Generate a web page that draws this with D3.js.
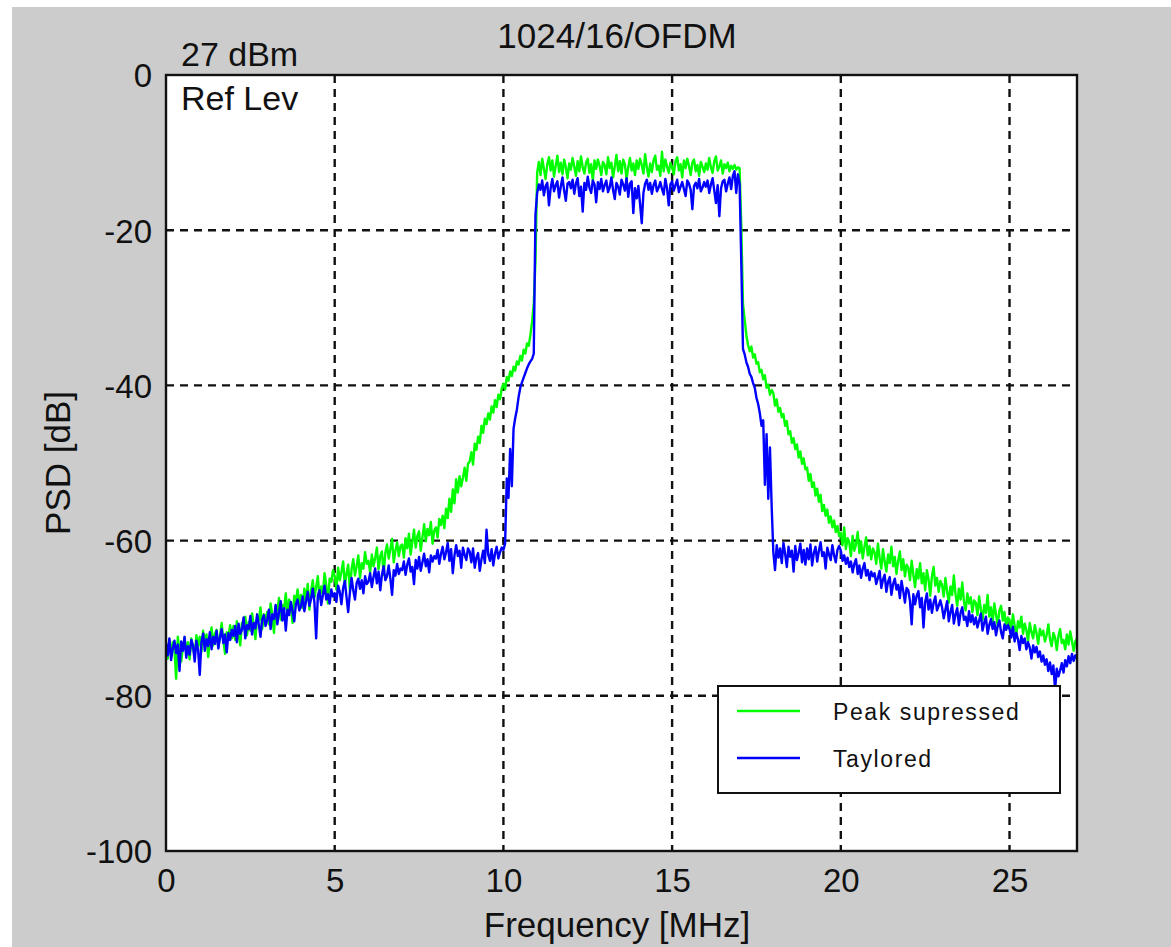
<!DOCTYPE html>
<html>
<head>
  <meta charset="utf-8">
  <script src="https://d3js.org/d3.v7.min.js"></script>
  <style>
    body { margin: 0; background: #ffffff; }
    svg { display: block; }
    text { font-family: "Liberation Sans", Arial, sans-serif; fill: #111111; }
    .grid line { stroke: #111111; stroke-width: 2.4; stroke-dasharray: 8,6; }
    .trace { fill: none; stroke-width: 2.4; stroke-linejoin: round; }
  </style>
</head>
<body>
<svg id="canvas" width="1171" height="947"></svg>
<script>
  // spectrum, one row per MHz (20 samples per MHz, last value at 27 MHz)
  const greenPsd = [
    -73.5,-75.2,-72.8,-74.6,-73.1,-74.0,-77.8,-72.4,-74.2,-75.6,-73.8,-72.5,-74.5,-73.1,-75.3,-72.6,-73.9,-74.8,-72.2,-73.6,
    -72.4,-74.3,-71.6,-73.0,-72.1,-75.0,-72.8,-71.2,-73.5,-72.0,-71.5,-73.8,-72.3,-70.6,-72.9,-74.6,-71.8,-72.4,-70.9,-72.6,
    -71.0,-72.8,-70.4,-71.9,-73.5,-70.6,-71.3,-69.8,-72.2,-70.5,-71.6,-69.4,-70.8,-72.7,-69.9,-70.3,-68.6,-71.4,-69.5,-70.1,
    -69.2,-70.8,-68.1,-69.6,-71.9,-68.5,-69.0,-67.4,-70.2,-68.3,-68.9,-66.8,-69.5,-67.6,-68.4,-70.6,-67.1,-67.9,-66.3,-68.2,
    -67.0,-68.7,-66.2,-67.8,-65.6,-68.9,-66.5,-65.1,-67.3,-66.0,-64.6,-67.5,-65.9,-66.8,-64.2,-65.7,-68.1,-64.9,-65.3,-63.8,
    -64.6,-66.3,-63.5,-65.1,-64.0,-62.7,-65.8,-64.2,-63.1,-66.5,-63.7,-62.4,-64.5,-63.3,-61.9,-64.8,-62.9,-63.6,-61.5,-63.0,
    -62.6,-64.1,-61.8,-63.3,-62.2,-60.9,-63.7,-62.0,-61.4,-64.4,-61.6,-60.5,-62.3,-61.1,-59.8,-62.8,-61.3,-60.2,-62.0,-60.7,
    -60.5,-62.2,-59.7,-61.0,-59.1,-61.8,-60.2,-58.6,-60.9,-59.4,-58.8,-61.3,-59.6,-57.9,-60.1,-58.5,-59.3,-57.6,-60.4,-58.7,
    -58.3,-59.6,-57.2,-58.0,-56.8,-58.4,-55.9,-57.1,-54.6,-56.3,-53.4,-55.2,-52.1,-53.8,-51.7,-53.0,-51.9,-50.6,-52.3,-50.1,
    -49.8,-48.6,-50.2,-47.5,-48.3,-46.6,-47.4,-45.2,-46.1,-44.3,-45.0,-43.6,-44.4,-42.7,-43.5,-41.9,-42.8,-41.2,-41.8,-40.4,
    -39.8,-40.5,-38.9,-39.4,-38.2,-38.8,-37.6,-38.1,-36.9,-37.3,-36.2,-36.8,-35.4,-35.9,-34.6,-34.9,-33.5,-31.8,-29.5,-24.0,
    -12.6,-11.2,-12.9,-10.8,-12.1,-13.4,-11.5,-10.6,-12.3,-11.0,-13.1,-11.7,-10.4,-12.5,-11.3,-12.8,-10.9,-11.9,-13.3,-11.4,
    -12.2,-10.7,-11.8,-13.0,-11.1,-12.4,-10.5,-11.9,-12.7,-11.3,-10.8,-12.6,-11.5,-13.6,-11.0,-12.1,-10.9,-11.7,-12.9,-11.2,
    -11.6,-12.8,-10.6,-12.0,-11.3,-13.2,-11.8,-10.3,-12.4,-11.1,-12.7,-10.9,-11.5,-13.4,-11.9,-10.7,-12.3,-11.4,-12.9,-11.0,
    -12.1,-10.8,-11.6,-12.7,-10.2,-11.9,-13.1,-11.4,-12.5,-11.0,-10.4,-12.2,-11.7,-13.0,-9.9,-12.4,-10.9,-11.8,-12.6,-11.3,
    -11.9,-12.8,-11.1,-10.6,-12.3,-11.5,-13.2,-11.0,-12.0,-10.8,-11.7,-12.9,-11.3,-10.9,-12.4,-11.6,-13.0,-11.2,-11.8,-12.5,
    -11.4,-12.2,-10.7,-11.9,-12.6,-11.1,-10.5,-12.3,-11.8,-11.0,-12.7,-11.5,-12.0,-11.3,-12.4,-11.7,-12.1,-11.6,-12.2,-11.9,
    -12.0,-19.5,-29.5,-31.5,-33.5,-34.8,-35.6,-35.0,-36.4,-36.0,-37.2,-37.0,-38.3,-38.0,-39.2,-38.7,-40.3,-39.9,-41.2,-40.6,
    -41.0,-42.6,-41.8,-43.4,-42.9,-44.1,-43.7,-45.2,-44.6,-46.3,-45.9,-47.4,-46.8,-48.2,-47.6,-49.3,-48.5,-50.1,-49.4,-50.8,
    -50.6,-52.3,-51.4,-53.1,-52.5,-54.2,-53.3,-55.0,-54.1,-56.2,-55.4,-56.8,-56.0,-57.7,-56.9,-58.3,-57.4,-58.9,-58.1,-59.4,
    -59.0,-60.6,-58.3,-61.1,-59.7,-60.2,-62.0,-59.4,-61.3,-60.5,-58.9,-61.6,-60.1,-62.3,-60.8,-59.6,-61.9,-60.7,-62.4,-61.0,
    -61.5,-63.0,-60.4,-62.2,-63.6,-61.1,-62.7,-64.0,-61.8,-62.9,-60.8,-63.3,-62.1,-64.3,-62.6,-61.4,-63.8,-62.4,-64.6,-63.1,
    -63.5,-65.1,-62.6,-64.4,-66.0,-63.7,-64.9,-62.9,-65.5,-64.2,-66.4,-63.8,-65.0,-67.1,-64.6,-63.4,-65.8,-64.8,-66.6,-65.2,
    -65.7,-67.2,-64.8,-66.5,-68.0,-65.9,-67.0,-64.5,-66.9,-68.4,-66.2,-67.6,-65.4,-67.9,-69.0,-66.8,-68.1,-67.3,-69.2,-67.7,
    -68.0,-69.6,-67.2,-68.9,-70.2,-68.3,-69.3,-67.0,-69.8,-68.6,-70.6,-68.1,-69.5,-71.0,-69.0,-68.4,-70.3,-69.2,-71.2,-69.9,
    -70.2,-71.6,-69.5,-70.9,-72.3,-70.4,-71.2,-69.8,-72.0,-70.7,-71.5,-73.0,-70.6,-71.8,-72.6,-70.9,-71.9,-73.3,-71.4,-72.2,
    -71.6,-73.0,-72.2,-70.8,-72.7,-73.6,-71.9,-72.5,-74.1,-72.3,-71.4,-73.2,-72.8,-74.0,-72.1,-73.4,-71.7,-72.9,-74.2,-73.0,
    -72.6
  ];

  const bluePsd = [
    -73.2,-74.8,-72.6,-75.4,-73.9,-72.9,-74.5,-73.4,-76.8,-73.0,-74.2,-72.4,-75.1,-73.6,-74.7,-72.8,-73.5,-75.6,-72.9,-74.0,
    -77.3,-73.1,-72.0,-74.2,-72.7,-73.6,-71.8,-74.0,-72.4,-73.3,-71.6,-73.9,-72.5,-71.4,-73.2,-72.1,-74.4,-71.9,-72.8,-71.5,
    -72.3,-71.0,-73.1,-70.7,-72.0,-71.5,-69.9,-72.6,-70.9,-71.4,-69.7,-72.1,-70.6,-71.3,-69.5,-70.8,-72.4,-70.2,-69.6,-71.0,
    -70.2,-68.9,-71.4,-69.5,-70.1,-68.3,-70.8,-69.2,-67.8,-70.3,-68.7,-71.6,-68.9,-69.6,-67.9,-69.1,-70.4,-68.2,-67.6,-69.0,
    -68.5,-67.2,-69.1,-67.8,-66.6,-68.4,-67.5,-66.2,-68.0,-72.6,-67.1,-66.4,-68.3,-67.0,-65.8,-67.6,-66.9,-68.1,-66.3,-67.2,
    -66.8,-67.9,-65.8,-66.6,-68.2,-66.1,-65.2,-67.3,-69.2,-66.7,-64.8,-66.4,-67.6,-65.5,-64.9,-66.2,-65.1,-66.8,-64.6,-65.6,
    -65.3,-64.2,-66.0,-64.7,-63.6,-65.5,-64.0,-66.4,-64.4,-63.3,-65.1,-64.6,-63.2,-64.9,-67.0,-63.8,-64.5,-63.0,-64.3,-63.6,
    -63.8,-62.7,-64.4,-63.1,-62.3,-64.0,-63.4,-65.6,-62.5,-63.6,-62.1,-63.9,-62.8,-61.7,-63.3,-62.4,-64.1,-61.9,-62.7,-62.0,
    -62.3,-61.2,-63.0,-61.7,-60.8,-62.4,-61.5,-60.3,-62.6,-61.1,-64.2,-61.9,-60.6,-62.0,-61.3,-63.5,-60.9,-61.8,-62.5,-61.0,
    -61.4,-62.8,-61.0,-63.5,-62.2,-61.6,-63.9,-62.4,-61.3,-62.9,-58.6,-61.8,-62.6,-61.1,-63.2,-61.7,-60.8,-62.3,-61.5,-60.9,
    -61.2,-60.4,-52.0,-54.5,-48.2,-53.0,-45.6,-44.2,-43.1,-41.5,-40.3,-39.6,-39.0,-38.4,-37.8,-37.3,-36.9,-36.6,-35.9,-18.0,
    -15.2,-14.1,-14.8,-13.6,-15.5,-14.3,-13.9,-16.8,-14.6,-13.4,-15.0,-14.2,-13.7,-15.8,-14.4,-13.2,-14.9,-16.2,-14.0,-13.8,
    -14.6,-13.5,-15.3,-14.0,-13.3,-15.6,-14.4,-17.6,-13.9,-14.8,-13.1,-14.5,-15.2,-13.6,-14.1,-16.4,-13.8,-14.7,-13.4,-15.0,
    -14.2,-13.6,-15.1,-14.5,-13.2,-14.8,-16.0,-13.9,-14.4,-15.4,-13.5,-14.1,-14.9,-13.3,-15.7,-14.0,-13.7,-17.8,-14.6,-15.9,
    -14.3,-16.6,-19.1,-15.2,-14.0,-13.5,-14.8,-13.9,-15.3,-14.2,-13.6,-15.0,-14.5,-13.8,-14.7,-15.4,-13.4,-14.6,-16.8,-14.1,
    -13.7,-14.9,-14.2,-13.5,-15.1,-14.4,-13.8,-14.7,-15.6,-13.6,-14.0,-14.8,-17.3,-14.3,-13.9,-14.6,-13.4,-15.0,-14.5,-13.8,
    -14.4,-13.6,-15.2,-14.1,-13.3,-14.9,-16.5,-14.2,-18.2,-14.6,-13.7,-13.5,-15.0,-14.0,-13.2,-14.7,-13.0,-12.4,-15.2,-12.8,
    -14.0,-24.0,-35.3,-36.0,-37.0,-37.6,-38.5,-38.9,-39.7,-40.3,-41.6,-42.4,-43.6,-45.2,-44.5,-52.8,-46.3,-54.6,-48.0,-55.5,
    -61.5,-63.8,-60.6,-62.2,-61.0,-62.9,-60.3,-61.7,-63.4,-60.8,-62.1,-61.3,-64.0,-60.7,-62.5,-61.6,-60.4,-62.8,-61.2,-63.1,
    -61.0,-62.4,-60.5,-63.2,-61.6,-60.8,-62.7,-61.3,-60.2,-62.0,-61.5,-63.6,-60.9,-61.8,-62.5,-60.6,-61.9,-62.8,-61.2,-60.7,
    -61.3,-62.6,-61.9,-63.0,-62.2,-63.4,-62.7,-64.1,-63.0,-62.4,-64.3,-63.2,-64.8,-63.6,-62.9,-64.5,-63.8,-65.1,-64.0,-64.6,
    -64.2,-65.6,-64.8,-63.9,-66.1,-65.0,-64.4,-66.6,-65.3,-64.7,-67.0,-65.6,-64.9,-66.3,-65.7,-67.4,-65.2,-66.5,-68.0,-66.1,
    -66.4,-67.8,-70.8,-66.9,-68.2,-67.1,-66.5,-68.6,-67.4,-71.2,-67.9,-66.8,-68.9,-67.6,-69.3,-68.0,-67.2,-69.0,-68.4,-67.7,
    -68.6,-70.0,-68.9,-67.8,-70.4,-69.2,-68.3,-70.7,-69.5,-68.7,-70.9,-69.3,-68.6,-70.2,-69.8,-71.0,-69.1,-70.5,-69.6,-70.8,
    -69.9,-71.2,-70.3,-69.4,-71.6,-70.6,-69.8,-72.0,-70.9,-70.1,-71.4,-70.5,-72.2,-71.0,-70.3,-71.8,-72.6,-70.8,-71.5,-70.9,
    -71.4,-72.5,-71.1,-73.0,-71.9,-72.7,-74.1,-72.3,-73.2,-72.6,-74.0,-73.1,-73.8,-75.2,-73.5,-74.4,-73.7,-75.0,-74.3,-75.6,
    -74.8,-76.0,-75.3,-76.8,-75.7,-77.2,-76.1,-79.2,-76.5,-77.5,-76.7,-75.8,-77.0,-75.4,-76.2,-74.9,-75.8,-74.6,-75.5,-74.8,
    -75.2
  ];

  const seriesNames = ["Peak supressed", "Taylored"];
  const seriesColors = ["#00ff00", "#0000ff"];
  const xTicks = [0, 5, 10, 15, 20, 25];
  const yTicks = [0, -20, -40, -60, -80, -100];

  const svg = d3.select("#canvas");
  const margin = { left: 166, top: 75, right: 1077, bottom: 851 };

  const x = d3.scaleLinear().domain([0, 27]).range([margin.left, margin.right]);
  const y = d3.scaleLinear().domain([-100, 0]).range([margin.bottom, margin.top]);

  // gray figure background (the scan has a thin white strip top/left)
  svg.append("rect").attr("width", 1171).attr("height", 947).attr("fill", "#ffffff");
  svg.append("rect").attr("x", 12).attr("y", 7).attr("width", 1159).attr("height", 940).attr("fill", "#cccccc");

  svg.append("rect")
      .attr("x", margin.left).attr("y", margin.top)
      .attr("width", margin.right - margin.left).attr("height", margin.bottom - margin.top)
      .attr("fill", "#ffffff");

  // dashed grid
  const grid = svg.append("g").attr("class", "grid");
  grid.selectAll(".vg").data(xTicks.filter(d => d > 0))
    .enter().append("line")
      .attr("x1", d => x(d)).attr("x2", d => x(d))
      .attr("y1", margin.top).attr("y2", margin.bottom);
  grid.selectAll(".hg").data(yTicks.filter(d => d < 0 && d > -100))
    .enter().append("line")
      .attr("x1", margin.left).attr("x2", margin.right)
      .attr("y1", d => y(d)).attr("y2", d => y(d));

  // traces
  svg.append("clipPath").attr("id", "plotclip")
    .append("rect")
      .attr("x", margin.left).attr("y", margin.top)
      .attr("width", margin.right - margin.left).attr("height", margin.bottom - margin.top);

  function toPoints(values) {
    const step = 27 / (values.length - 1);
    return values.map((v, i) => ({ f: i * step, v: v }));
  }

  const line = d3.line().x(d => x(d.f)).y(d => y(d.v));
  [greenPsd, bluePsd].forEach((values, k) => {
    svg.append("path")
        .attr("class", "trace")
        .attr("clip-path", "url(#plotclip)")
        .attr("stroke", seriesColors[k])
        .attr("d", line(toPoints(values)));
  });

  // frame
  svg.append("rect")
      .attr("x", margin.left).attr("y", margin.top)
      .attr("width", margin.right - margin.left).attr("height", margin.bottom - margin.top)
      .attr("fill", "none").attr("stroke", "#111111").attr("stroke-width", 2.4);

  // axes (labels only, grid drawn above); plain hyphen for negatives like the original
  const plain = d => String(d);
  const xAxis = svg.append("g")
      .attr("transform", `translate(0,${margin.bottom})`)
      .call(d3.axisBottom(x).tickValues(xTicks).tickSize(0).tickFormat(plain));
  xAxis.select(".domain").remove();
  xAxis.selectAll("text")
      .attr("y", 41).attr("dy", null)
      .style("font-size", "33px").attr("fill", "#111111");

  const yAxis = svg.append("g")
      .attr("transform", `translate(${margin.left},0)`)
      .call(d3.axisLeft(y).tickValues(yTicks).tickSize(0).tickFormat(plain));
  yAxis.select(".domain").remove();
  yAxis.selectAll("text")
      .attr("x", -14).attr("dy", "0.36em")
      .style("font-size", "33px").attr("fill", "#111111");

  // titles
  svg.append("text").attr("x", 617).attr("y", 48).attr("text-anchor", "middle")
      .style("font-size", "35px").text("1024/16/OFDM");
  svg.append("text").attr("x", 181).attr("y", 66)
      .style("font-size", "34px").text("27 dBm");
  svg.append("text").attr("x", 181).attr("y", 110)
      .style("font-size", "34px").text("Ref Lev");
  svg.append("text").attr("x", 617).attr("y", 937).attr("text-anchor", "middle")
      .style("font-size", "35px").text("Frequency [MHz]");
  svg.append("text").attr("transform", "translate(70,463) rotate(-90)").attr("text-anchor", "middle")
      .style("font-size", "35px").text("PSD [dB]");

  // legend
  const legend = svg.append("g");
  legend.append("rect")
      .attr("x", 718).attr("y", 686).attr("width", 342).attr("height", 107)
      .attr("fill", "#ffffff").attr("stroke", "#111111").attr("stroke-width", 2);
  seriesNames.forEach((name, k) => {
    const ly = 711 + k * 47;
    legend.append("line")
        .attr("x1", 737).attr("x2", 800).attr("y1", ly).attr("y2", ly)
        .attr("stroke", seriesColors[k]).attr("stroke-width", 2.4);
    legend.append("text")
        .attr("x", 833).attr("y", ly + 9)
        .style("font-size", "23px").style("letter-spacing", "1.6px")
        .text(name);
  });
</script>
</body>
</html>
